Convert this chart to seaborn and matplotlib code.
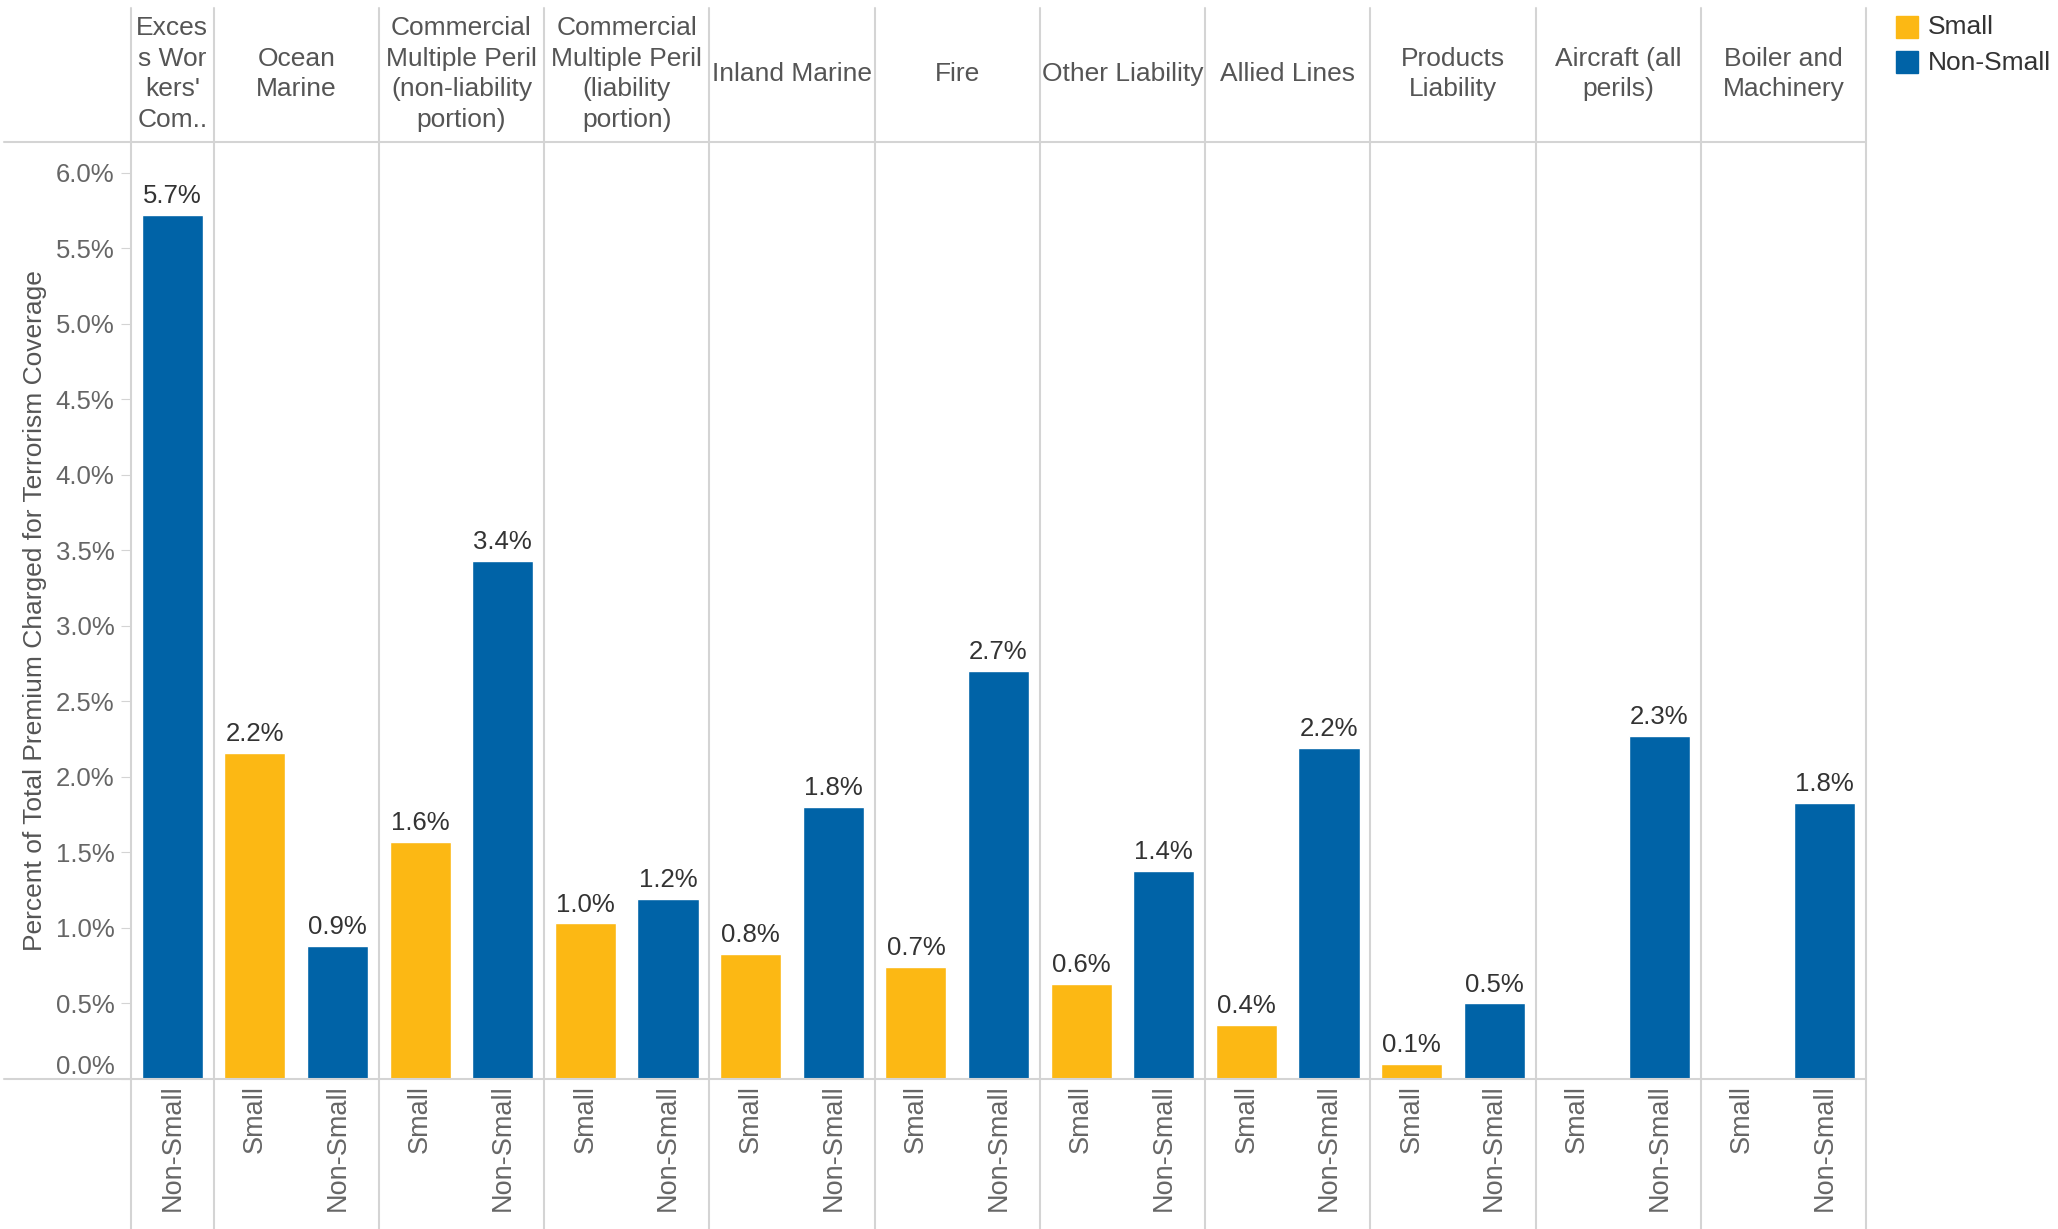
import numpy as np
import pandas as pd
import matplotlib
matplotlib.use("Agg")
import matplotlib.pyplot as plt
import seaborn as sns
from matplotlib import transforms
from matplotlib.lines import Line2D
from matplotlib.patches import Rectangle

# ---------------- data ----------------
categories = [
    "Excess Workers' Comp", "Ocean Marine",
    "Commercial Multiple Peril (non-liability portion)",
    "Commercial Multiple Peril (liability portion)",
    "Inland Marine", "Fire", "Other Liability", "Allied Lines",
    "Products Liability", "Aircraft (all perils)", "Boiler and Machinery",
]
header_labels = [
    "Exces\ns Wor\nkers'\nCom..", "Ocean\nMarine",
    "Commercial\nMultiple Peril\n(non-liability\nportion)",
    "Commercial\nMultiple Peril\n(liability\nportion)",
    "Inland Marine", "Fire", "Other Liability", "Allied Lines",
    "Products\nLiability", "Aircraft (all\nperils)", "Boiler and\nMachinery",
]
cat_sizes = [["Non-Small"]] + [["Small", "Non-Small"]] * 10
small_values = [None, 2.16, 1.57, 1.03, 0.83, 0.74, 0.63, 0.36, 0.10, None, None]
nonsmall_values = [5.72, 0.88, 3.43, 1.19, 1.80, 2.70, 1.38, 2.19, 0.50, 2.27, 1.83]
size_order = ["Small", "Non-Small"]
palette = {"Small": "#FCB814", "Non-Small": "#0063A7"}
y_ticks = [0.0, 0.5, 1.0, 1.5, 2.0, 2.5, 3.0, 3.5, 4.0, 4.5, 5.0, 5.5, 6.0]
y_label = "Percent of Total Premium Charged for Terrorism Coverage"

rows = []
for ci, cat in enumerate(categories):
    for s in cat_sizes[ci]:
        v = small_values[ci] if s == "Small" else nonsmall_values[ci]
        rows.append(dict(slot=f"{cat}|{s}", category=cat, size=s,
                         value=np.nan if v is None else v))
df = pd.DataFrame(rows)
order = df["slot"].tolist()

# ---------------- style ----------------
sns.set_style("white")
plt.rcParams['font.family'] = ['Liberation Sans', 'DejaVu Sans']
GRID = "#d4d4d4"

W, H = 2058, 1229
fig = plt.figure(figsize=(W / 100, H / 100), dpi=100)
left, right, top, bottom = 131, 1866, 142, 1079
ax = fig.add_axes([left / W, 1 - bottom / H, (right - left) / W, (bottom - top) / H])

plot_df = df.dropna(subset=["value"])
sns.barplot(data=plot_df, x="slot", y="value", hue="size", order=order,
            hue_order=size_order, palette=palette, dodge=False, width=0.74,
            saturation=1, legend=False, errorbar=None, ax=ax)

ax.set_xlim(-0.5, len(order) - 0.5)
ax.set_ylim(0, 6.205)
for sp in ax.spines.values():
    sp.set_visible(False)

ax.set_yticks(y_ticks)
ax.set_yticklabels([f"{t:.1f}%" for t in y_ticks])
ax.tick_params(axis="y", length=7, color=GRID, labelcolor="#666666",
               labelsize=18.5, pad=5, left=True)
ylabs = ax.get_yticklabels()
ylabs[0].set_va("bottom")

ax.set_xticks(range(len(order)))
ax.set_xticklabels(df["size"].tolist(), rotation=90, ha="center", va="top")
ax.tick_params(axis="x", length=0, labelcolor="#666666", labelsize=19.5, pad=4)
ax.set_xlabel("")
ax.set_ylabel(y_label, fontsize=19, color="#555555")
ax.yaxis.set_label_coords((47 - left) / (right - left), 0.5)

# value labels
for i, r in df.iterrows():
    if not np.isnan(r["value"]):
        ax.annotate(f"{r['value']:.1f}%", (i, r["value"]), xytext=(0, 5),
                    textcoords="offset points", ha="center", va="bottom",
                    fontsize=18.5, color="#333333")

# panel separators and headers
blend = transforms.blended_transform_factory(ax.transData, fig.transFigure)
counts = [len(s) for s in cat_sizes]
bounds = np.concatenate([[0], np.cumsum(counts)]) - 0.5
for b in bounds:
    fig.add_artist(Line2D([b, b], [0, 1 - 8 / H], transform=blend,
                          color=GRID, lw=1.5))
for ci, lab in enumerate(header_labels):
    cx = (bounds[ci] + bounds[ci + 1]) / 2
    fig.text(cx, 1 - 74 / H, lab, transform=blend, ha="center", va="center",
             fontsize=19, color="#555555", linespacing=1.36)

for yy in (top, bottom):
    fig.add_artist(Line2D([4 / W, right / W], [1 - yy / H] * 2,
                          transform=fig.transFigure, color=GRID, lw=1.5))

# legend
for k, s in enumerate(size_order):
    yc = 26.5 + 35 * k
    fig.add_artist(Rectangle((1896 / W, 1 - (yc + 11) / H), 22 / W, 22 / H,
                             transform=fig.transFigure, color=palette[s]))
    fig.text(1928 / W, 1 - (yc + 1) / H, s, ha="left", va="center",
             fontsize=19, color="#333333")

fig.savefig("out.png", dpi=100)
